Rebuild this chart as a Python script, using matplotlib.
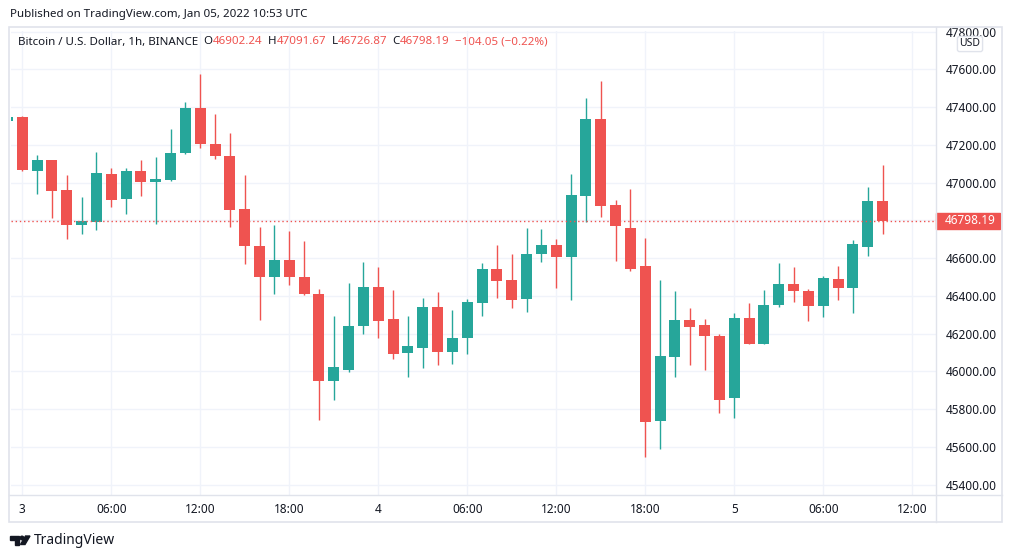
import matplotlib
matplotlib.use("Agg")
import matplotlib.pyplot as plt
from matplotlib.patches import Rectangle, Polygon, Circle
from matplotlib.lines import Line2D
from matplotlib.transforms import Affine2D, blended_transform_factory
import numpy as np

plt.rcParams['font.family'] = ['Noto Sans', 'DejaVu Sans']

# hourly candles, hour 0 = Jan 3 00:00 UTC
hours = list(range(-1, 59))
opens = [47328, 47347, 47063, 47120, 46961, 46777, 46793, 47046, 46915, 47062,
         47005, 47016, 47159, 47395, 47206, 47141, 46860, 46665, 46502, 46590,
         46500, 46410, 45951, 46010, 46243, 46447, 46278, 46100, 46126, 46342,
         46105, 46179, 46364, 46543, 46485, 46386, 46624, 46670, 46608, 46931,
         47337, 46882, 46760, 46559, 45740, 46079, 46273, 46246, 46188, 45862,
         46283, 46147, 46354, 46463, 46426, 46349, 46490, 46444, 46661, 46902.24]
highs = [47360, 47353, 47146, 47122, 47040, 46926, 47162, 47077, 47077, 47120,
         47136, 47284, 47427, 47575, 47363, 47263, 47040, 46765, 46776, 46744,
         46691, 46437, 46294, 46469, 46580, 46553, 46433, 46294, 46389, 46421,
         46326, 46384, 46575, 46670, 46622, 46760, 46755, 46702, 47046, 47448,
         47538, 46908, 46966, 46707, 46485, 46426, 46336, 46278, 46199, 46310,
         46363, 46432, 46575, 46553, 46437, 46506, 46559, 46696, 46977, 47091.67]
lows = [47310, 47060, 46942, 46814, 46703, 46730, 46751, 46873, 46836, 46931,
        46783, 47011, 47154, 47185, 47127, 46767, 46571, 46274, 46412, 46460,
        46405, 45745, 45851, 45999, 46200, 46179, 46068, 45973, 46020, 46036,
        46042, 46094, 46295, 46391, 46338, 46317, 46581, 46444, 46380, 46793,
        46820, 46587, 46534, 45549, 45592, 45973, 46036, 46010, 45782, 45756,
        46147, 46147, 46343, 46370, 46269, 46290, 46380, 46311, 46612, 46726.87]
closes = [47346, 47067, 47120, 46957, 46777, 46797, 47051, 46910, 47062, 47005,
          47019, 47157, 47395, 47206, 47143, 46857, 46666, 46502, 46590, 46502,
          46412, 45951, 46024, 46241, 46447, 46269, 46094, 46135, 46342, 46105,
          46177, 46368, 46543, 46481, 46380, 46622, 46670, 46608, 46935, 47337,
          46878, 46772, 46544, 45734, 46083, 46273, 46237, 46190, 45851, 46283,
          46147, 46352, 46463, 46428, 46349, 46495, 46444, 46675, 46903, 46798.19]

tick_hours = [0, 6, 12, 18, 24, 30, 36, 42, 48, 54, 60]
tick_labels = ["3", "06:00", "12:00", "18:00", "4", "06:00", "12:00", "18:00", "5", "06:00", "12:00"]
price_ticks = list(range(45400, 47801, 200))

title_text = "Bitcoin / U.S. Dollar, 1h, BINANCE"
published = "Published on TradingView.com, Jan 05, 2022 10:53 UTC"
last_price = 46798.19
change_text = "\u2212104.05 (\u22120.22%)"

UP = '#26a69a'
DOWN = '#ef5350'
DARK = '#131722'
GRID = '#f0f3fa'
BORDER = '#e0e3eb'

W, H = 1012, 558
fig = plt.figure(figsize=(W / 100, H / 100), dpi=100)
# pixel coords (y down) -> figure
px = Affine2D().scale(1 / W, -1 / H).translate(0, 1) + fig.transFigure

ax = fig.add_axes([11 / W, 1 - 495 / H, (936 - 11) / W, (495 - 31) / H])
for s in ax.spines.values():
    s.set_visible(False)

o = np.array(opens)
c = np.array(closes)
colors = [UP if cc >= oo else DOWN for oo, cc in zip(o, c)]
ax.vlines(hours, lows, highs, colors=colors, lw=1.0, zorder=3)
body_h = np.maximum(np.abs(c - o), 3)
ax.bar(hours, body_h, bottom=np.minimum(o, c), width=0.74, color=colors, lw=0, zorder=4)

ax.set_xlim(-0.76, 61.6)
ax.set_ylim(45346, 47803)
ax.set_xticks(tick_hours)
ax.set_xticklabels(tick_labels)
ax.set_yticks(price_ticks)
ax.set_yticklabels(["%.2f" % p for p in price_ticks])
ax.yaxis.tick_right()
ax.tick_params(axis='x', length=0, pad=6, labelsize=8.5, labelcolor=DARK)
ax.tick_params(axis='y', length=0, pad=7, labelsize=8.5, labelcolor=DARK)
for lab in ax.get_xticklabels():
    if ":" not in lab.get_text():
        lab.set_fontweight('bold')
ax.grid(True, color=GRID, lw=1)
ax.set_axisbelow(True)

# last price line + label
ax.axhline(last_price, color=DOWN, ls=(0, (1, 2)), lw=1, zorder=5)
bt = blended_transform_factory(ax.transAxes, ax.transData)
ax.add_patch(Rectangle((1.0, last_price - 8 / 0.1889), 64 / 925, 16 / 0.1889,
                       transform=bt, color=DOWN, clip_on=False, zorder=6))
ax.text(1.0 + 9 / 925, last_price, "%.2f" % last_price, transform=bt, color='white',
        fontsize=8.5, va='center', ha='left', zorder=7, clip_on=False)

# hide the top of the cut 47800 label, then the frame
fig.add_artist(Rectangle((930, 0), 82, 27, transform=px, color='white', zorder=8))
fig.add_artist(Rectangle((9.5, 27), 993, 495, transform=px, fill=False, ec=BORDER, lw=1.2, zorder=9))
fig.add_artist(Line2D([9.5, 1002.5], [495, 495], transform=px, color=BORDER, lw=1, zorder=9))
fig.add_artist(Line2D([936, 936], [27, 522], transform=px, color=BORDER, lw=1, zorder=9))

fig.text(970, 44, "USD", transform=px, fontsize=7.5, color=DARK, ha='center', va='center', zorder=10,
         bbox=dict(boxstyle='round,pad=0.2', fc='white', ec=BORDER, lw=1))

fig.text(10, 14, published, transform=px, fontsize=8.3, color=DARK, va='center')

# legend line, chained piece by piece
parts = [(title_text, DARK, 0), ("O", DARK, 4), ("%.2f" % opens[-1], DOWN, 0),
         ("H", DARK, 4), ("%.2f" % highs[-1], DOWN, 0),
         ("L", DARK, 4), ("%.2f" % lows[-1], DOWN, 0),
         ("C", DARK, 4), ("%.2f" % closes[-1], DOWN, 0),
         (change_text, DOWN, 4)]
prev = fig.text(18, 42, parts[0][0], transform=px, fontsize=8.3, color=parts[0][1], va='center', zorder=10)
for s, col, gap in parts[1:]:
    prev = ax.annotate(s, xy=(1, 0), xycoords=prev, xytext=(gap, 0), textcoords='offset points',
                       fontsize=8.3, color=col, va='bottom', ha='left', annotation_clip=False, zorder=10)

# TradingView logo
fig.add_artist(Polygon([(10, 536), (19.5, 536), (19.5, 544.5), (15.5, 544.5), (15.5, 539.5), (10, 539.5)],
                       closed=True, transform=px, color=DARK))
fig.add_artist(Circle((22, 538), 1.8, transform=px, color=DARK))
fig.add_artist(Polygon([(25.5, 536), (30, 536), (25, 544.5), (20.5, 544.5)], closed=True, transform=px, color=DARK))
fig.text(34, 540, "TradingView", transform=px, fontsize=10, color=DARK, va='center')

fig.savefig("out.png", dpi=100)
